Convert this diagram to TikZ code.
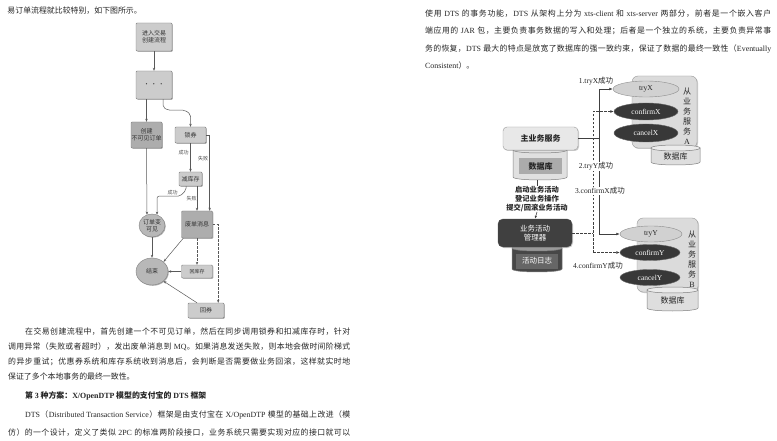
\documentclass[tikz,border=0pt]{standalone}
\usepackage{fontspec}
\setmainfont{Noto Sans CJK SC}
\newfontfamily\latf{Liberation Serif}
\usetikzlibrary{arrows.meta,shadows,shapes.geometric,calc}
\newcommand\Lw[1]{{\latf #1}}
\def\spreadfirst#1{#1\spreadloop}
\def\spreadloop#1{\ifx\relax#1\else\hskip 0pt plus 1fil\relax#1\expandafter\spreadloop\fi}
\newcommand\jl[2]{\hbox to #1pt{\spreadfirst#2\relax}}
% cylinder: x1 x2 ytop ybot ry bodyfill topfill
\newcommand\mycyl[7]{%
  \filldraw[fill=#6, draw=black!50, line width=0.5pt] (#1,#3) -- (#1,#4) .. controls (#1,#4+1.333*#5) and (#2,#4+1.333*#5) .. (#2,#4) -- (#2,#3) -- cycle;
  \filldraw[fill=#7, draw=black!50, line width=0.5pt] (#1,#3) .. controls (#1,#3-1.333*#5) and (#2,#3-1.333*#5) .. (#2,#3) .. controls (#2,#3+1.333*#5) and (#1,#3+1.333*#5) .. (#1,#3) -- cycle;
}
\begin{document}
\begin{tikzpicture}[x=1pt,y=-1pt,
  txt/.style={anchor=base west, inner sep=0pt, font=\fontsize{7.9}{10}\selectfont, text=black!85},
  fb/.style={draw=black!50, fill=black!20, rounded corners=1pt, inner sep=0pt, align=center,
     font=\fontsize{6}{7}\selectfont, text=black!80,
     drop shadow={shadow xshift=0.8pt, shadow yshift=-0.8pt, fill=black!50, opacity=0.6}},
  fbd/.style={fb, fill=black!32},
  fe/.style={ellipse, draw=black!50, fill=black!28, inner sep=0pt, align=center,
     font=\fontsize{6}{7}\selectfont, text=black!80,
     drop shadow={shadow xshift=0.8pt, shadow yshift=-0.8pt, fill=black!50, opacity=0.6}},
  flow/.style={draw=black!65, line width=0.5pt, -{Stealth[length=3pt,width=2.4pt]}},
  dflow/.style={flow, dash pattern=on 2.5pt off 1.5pt},
  lb/.style={inner sep=0pt, font=\fontsize{5}{6}\selectfont, text=black!70},
  rl/.style={draw=black!75, line width=0.6pt},
  ra/.style={rl, -{Latex[length=3.5pt,width=2.8pt]}},
  rd/.style={rl, dash pattern=on 2.5pt off 1.5pt},
  rda/.style={ra, dash pattern=on 2.5pt off 1.5pt},
  lt/.style={ellipse, draw=black!45, fill=black!18, inner sep=0pt, text=black!85,
     font=\latf\fontsize{7.5}{9}\selectfont},
  dk/.style={ellipse, draw=black!60, fill=black!78, inner sep=0pt, text=white,
     font=\latf\fontsize{7.5}{9}\selectfont},
  rlab/.style={fill=white, inner sep=0.6pt, font=\fontsize{7.5}{9}\selectfont, text=black!85},
  cont/.style={draw=black!40, fill=black!14, rounded corners=6pt, inner sep=0pt,
     drop shadow={shadow xshift=1pt, shadow yshift=-1pt, fill=black!40, opacity=0.5}},
  vt/.style={align=center, inner sep=0pt, font=\fontsize{8}{10}\selectfont, text=black!85},
]
\useasboundingbox (0,0) rectangle (777,441);
\fill[white] (0,0) rectangle (777,441);

% ---------------- left page text ----------------
\node[txt] (t0) at (7.3,13.7) {易订单流程就比较特别，如下图所示。};
\node[txt] (t1) at (25,334) {\jl{325}{在交易创建流程中，首先创建一个不可见订单，然后在同步调用锁券和扣减库存时，针对}};
\node[txt] (t2) at (8,349.7) {\jl{342}{调用异常（失败或者超时），发出废单消息到{\Lw{ MQ}}。如果消息发送失败，则本地会做时间阶梯式}};
\node[txt] (t3) at (8,364.7) {\jl{342}{的异步重试；优惠券系统和库存系统收到消息后，会判断是否需要做业务回滚，这样就实时地}};
\node[txt] (t4) at (8,379.7) {保证了多个本地事务的最终一致性。};
\node[txt, font=\fontsize{7.9}{10}\selectfont\bfseries] (t5) at (25,398) {第 \Lw{3} 种方案：\Lw{X/OpenDTP} 模型的支付宝的 \Lw{DTS} 框架};
\node[txt] (t6) at (25,417.3) {\jl{325}{{\Lw{DTS}}（{\Lw{Distributed Transaction Service}}）框架是由支付宝在{\Lw{ X/OpenDTP }}模型的基础上改进（模}};
\node[txt] (t7) at (8,435.3) {\jl{342}{仿）的一个设计，定义了类似{\Lw{ 2PC }}的标准两阶段接口，业务系统只需要实现对应的接口就可以}};

% ---------------- right page text ----------------
\node[txt] (r1) at (425,17) {\jl{346}{使用{\Lw{ DTS }}的事务功能，{\Lw{DTS }}从架构上分为{\Lw{ xts-client }}和{\Lw{ xts-server }}两部分，前者是一个嵌入客户}};
\node[txt] (r2) at (425,34) {\jl{346}{端应用的{\Lw{ JAR }}包，主要负责事务数据的写入和处理；后者是一个独立的系统，主要负责异常事}};
\node[txt] (r3) at (425,51.3) {\jl{346}{务的恢复，{\Lw{DTS }}最大的特点是放宽了数据库的强一致约束，保证了数据的最终一致性（{\Lw{Eventually}}}};
\node[txt] (r4) at (425,68.7) {\Lw{Consistent}）。};

% ---------------- left flowchart ----------------
\node[fb, minimum width=36pt, minimum height=28pt] (n1) at (154,37) {进入交易\\创建流程};
\node[fb, minimum width=36pt, minimum height=28pt] (n2) at (154,85) {· · ·};
\node[fbd, minimum width=31pt, minimum height=26pt] (n3) at (146.5,135) {创建\\不可见订单};
\node[fb, minimum width=31pt, minimum height=16pt] (n4) at (190.5,135) {锁券};
\node[fb, minimum width=23pt, minimum height=14pt] (n5) at (190.5,179) {减库存};
\node[fe, minimum width=26pt, minimum height=23pt] (n6) at (152,225.5) {订单变\\可见};
\node[fbd, minimum width=31pt, minimum height=27pt] (n7) at (197,224.5) {废单消息};
\node[fe, minimum width=32pt, minimum height=27pt] (n8) at (152,271.5) {结束};
\node[fb, minimum width=31pt, minimum height=13pt, font=\fontsize{5}{6}\selectfont] (n9) at (197,271.5) {回库存};
\node[fb, minimum width=36pt, minimum height=15pt] (n10) at (206,310.5) {回券};

\draw[flow] (n1.south) -- (n2.north);
\draw[flow] (n2.south -| n3.north) -- (n3.north);
\draw[flow, rounded corners=2pt] ([xshift=9pt]n2.south) -- ++(0,8) -- ++(5,3) -- ++(17,0) -- ++(5.5,4) -- (n4.north);
\draw[flow] (n4.south) -- (n5.north);
\draw[flow] (n4.east) -| ([xshift=-3pt]n7.north east);
\draw[flow, rounded corners=2pt] ([xshift=-4.5pt]n5.south) -- ++(0,4) -- ++(-6,6) -| (n6.65);
\draw[flow] ([xshift=6.5pt]n5.south) -- (n7.north);
\draw[flow] (n3.south) -- (n6.115);
\draw[flow] (n6.south) -- (n8.north);
\draw[flow] ([xshift=2pt]n7.south west) -- (n8.40);
\draw[dflow] (n7.south) -- (n9.north);
\draw[flow] (n9.west) -- (n8.east);
\draw[dflow] (n7.east) -| ([xshift=-6pt]n10.north east);
\draw[flow] ([xshift=-9pt]n10.north) -- (n8.-40);

\node[lb] (s1) at (183.5,153) {成功};
\node[lb] (f1) at (203,159) {失败};
\node[lb] (s2) at (172.5,193) {成功};
\node[lb] (f2) at (191.5,199) {失败};

% ---------------- right diagram ----------------
% service A
\node[cont, minimum width=65pt, minimum height=72pt] (ca) at (664.5,112) {};
\node[vt] (vta) at (687,116) {从\\业\\务\\服\\务\\\Lw{A}};
\mycyl{651}{700}{148}{162}{3}{black!13}{black!8}
\node[inner sep=0pt, font=\fontsize{8}{9}\selectfont, text=black!85] (dba) at (675.5,156.5) {数据库};
\node[lt, minimum width=66pt, minimum height=16pt] (tryX) at (646,89) {tryX};
\node[dk, minimum width=64pt, minimum height=17pt] (confirmX) at (646,111.5) {confirmX};
\node[dk, minimum width=64pt, minimum height=18pt] (cancelX) at (646,133) {cancelX};

% service B
\node[cont, minimum width=61pt, minimum height=74pt] (cb) at (667.5,255) {};
\node[vt] (vtb) at (692,259) {从\\业\\务\\服\\务\\\Lw{B}};
\mycyl{647}{698}{290}{308}{3}{black!13}{black!8}
\node[inner sep=0pt, font=\fontsize{8}{9}\selectfont, text=black!85] (dbb2) at (672.5,300) {数据库};
\node[lt, minimum width=62pt, minimum height=16pt] (tryY) at (651,234) {tryY};
\node[dk, minimum width=60pt, minimum height=16pt] (confirmY) at (650,252.5) {confirmY};
\node[dk, minimum width=60pt, minimum height=16pt] (cancelY) at (650,277.5) {cancelY};

% main service
\mycyl{513}{567}{150}{177}{3}{black!12}{black!12}
\node[draw=black!40, fill=black!9, rounded corners=4pt, minimum width=75pt, minimum height=23pt,
  font=\fontsize{8}{9}\selectfont\bfseries, text=black!85,
  drop shadow={shadow xshift=1pt, shadow yshift=-1pt, fill=black!40, opacity=0.5}] (main) at (540.5,138.5) {主业务服务};
\node[fill=black!33, minimum width=43pt, minimum height=16pt, inner sep=0pt,
  font=\fontsize{8}{9}\selectfont\bfseries, text=black!85] (dbm) at (540.5,166) {数据库};
\coordinate (dbbot) at (537,180.5);
\node[align=center, inner sep=0pt, font=\fontsize{7.3}{9}\selectfont\bfseries, text=black!85] (acts) at (537,199) {启动业务活动\\登记业务操作\\提交/回滚业务活动};

% manager
\mycyl{512}{562}{248}{269}{3}{black!72}{black!40}
\node[fill=black!60, minimum width=42pt, minimum height=15pt, inner sep=0pt,
  font=\fontsize{7.5}{9}\selectfont, text=white] (log) at (537,261) {活动日志};
\node[draw=black!70, fill=black!75, rounded corners=5pt, minimum width=74pt, minimum height=28pt,
  align=center, inner sep=0pt, font=\fontsize{7.5}{9}\selectfont, text=white,
  drop shadow={shadow xshift=1pt, shadow yshift=-1pt, fill=black!40, opacity=0.5}] (mgr) at (535,233) {业务活动\\管理器};

\draw[rl] (dbbot) -- (acts.north);
\draw[rl, -{Latex[length=3pt,width=2.4pt]}] (acts.south) -- (mgr.north);

% connectors
\coordinate (jb) at (599,234);
\coordinate (db) at (593,252.5);
\draw[rl] (main.east) -- (main.east -| jb);
\draw[ra] (jb) |- (tryX.west);
\draw[ra] (jb) -- (tryY.west);
\draw[rda] (db) |- (confirmX.west);
\draw[rda] (db) -- (confirmY.west);
\draw[rd] (mgr.east) -- (mgr.east -| db);

\node[rlab] (l1) at (596,81) {\Lw{1.tryX}成功};
\node[rlab] (l2) at (596,166.5) {\Lw{2.tryY}成功};
\node[rlab] (l3) at (600,191) {\Lw{3.confirmX}成功};
\node[rlab] (l4) at (598,266) {\Lw{4.confirmY}成功};
\end{tikzpicture}
\end{document}
